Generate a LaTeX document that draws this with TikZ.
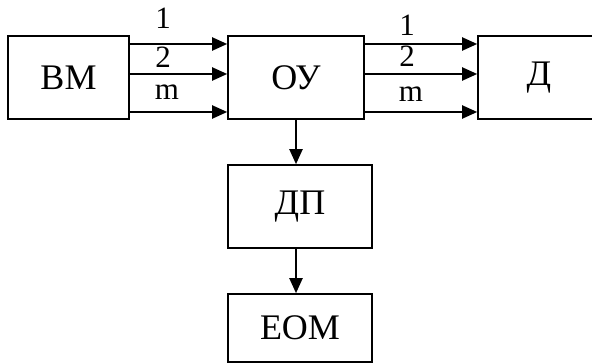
\documentclass[tikz,border=0pt]{standalone}
\usepackage{fontspec}
\setmainfont{Liberation Serif}
\usetikzlibrary{arrows.meta}
\begin{document}
\begin{tikzpicture}[x=1pt,y=1pt,
  blk/.style={draw, line width=1.6pt, rectangle, inner sep=0pt, font=\fontsize{36}{40}\selectfont},
  arr/.style={line width=2pt, -{Triangle[length=15pt,width=13pt]}},
  lbl/.style={anchor=base, inner sep=0pt, font=\fontsize{31}{34}\selectfont}]
\useasboundingbox (0,0) rectangle (592,-363);
\node[blk, minimum width=121pt, minimum height=83pt] (bm) at (68.5,-77.5) {ВМ};
\node[blk, minimum width=136pt, minimum height=83pt] (ou) at (296,-77.5) {ОУ};
\node[blk, minimum width=122pt, minimum height=83pt] (d) at (539,-77.5) {Д};
\node[blk, minimum width=144pt, minimum height=83pt] (dp) at (300,-206.5) {ДП};
\node[blk, minimum width=144pt, minimum height=68pt] (eom) at (300,-328) {ЕОМ};
\draw[arr] (bm.east |- 0,-44) -- (ou.west |- 0,-44);
\draw[arr] (bm.east |- 0,-74) -- (ou.west |- 0,-74);
\draw[arr] (bm.east |- 0,-112) -- (ou.west |- 0,-112);
\draw[arr] (ou.east |- 0,-44) -- (d.west |- 0,-44);
\draw[arr] (ou.east |- 0,-74) -- (d.west |- 0,-74);
\draw[arr] (ou.east |- 0,-112) -- (d.west |- 0,-112);
\node[lbl] (l1) at (163,-29) {1};
\node[lbl] (l2) at (163,-68) {2};
\node[lbl] (l3) at (167,-100) {m};
\node[lbl] (r1) at (407,-36) {1};
\node[lbl] (r2) at (407,-67) {2};
\node[lbl] (r3) at (411,-102) {m};
\draw[arr] (ou.south) -- (ou.south |- dp.north);
\draw[arr] (ou.south |- dp.south) -- (ou.south |- eom.north);
\end{tikzpicture}
\end{document}
